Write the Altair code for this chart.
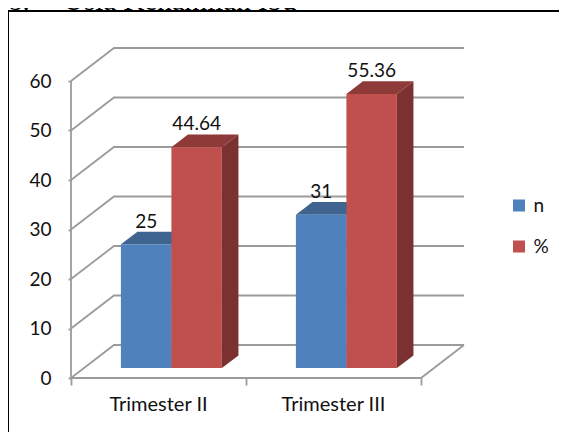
import altair as alt
import pandas as pd

categories = ["Trimester II", "Trimester III"]
series_names = ["n", "%"]
n_values = [25, 31]
pct_values = [44.64, 55.36]
y_ticks = [0, 10, 20, 30, 40, 50, 60]
heading = "Usia Kehamilan Ibu"
heading_number = "8."

front_colors = ["#4F81BD", "#C0504D"]
top_colors = ["#3E648F", "#8E3A38"]
side_colors = ["#3A5D87", "#7A312F"]

# oblique projection of the chart's depth axis, in category / value units
DX = 43 / 175
DY = 33 / 4.95
BAR_W = 50.5 / 175
FRONT = 0.30
BACK = 0.685

W, H = 551, 424
AXIS_X = 63
AXIS_Y = 370
x_scale = alt.Scale(domain=[-AXIS_X / 175, (W - AXIS_X) / 175], nice=False, zero=False)
y_scale = alt.Scale(domain=[-(H - AXIS_Y) / 4.95, AXIS_Y / 4.95], nice=False, zero=False)
LATO = "Lato"
FS = 19
GREY = "#9B9B9B"
INK = "#111111"

x_axis = alt.Axis(
    values=[0, 1, 2], offset=-(H - AXIS_Y), domain=False, grid=False, title=None,
    tickSize=7, tickWidth=1.8, tickColor=GREY, labels=False, orient="bottom",
)
y_axis = alt.Axis(
    values=y_ticks, offset=-AXIS_X, domain=False, grid=False, title=None,
    tickSize=3, tickWidth=1.8, tickColor=GREY, labelPadding=17,
    labelFont=LATO, labelFontSize=FS, labelColor=INK,
)


def X(field):
    return alt.X(field, scale=x_scale, axis=x_axis)


def Y(field):
    return alt.Y(field, scale=y_scale, axis=y_axis)


grid_rows = []
for v in y_ticks:
    grid_rows += [(f"g{v}", 0, v, 0), (f"g{v}", DX, v + DY, 1), (f"g{v}", 2 + DX, v + DY, 2)]
grid_rows += [("axis", 0, y_ticks[0], 0), ("axis", 0, y_ticks[-1], 1)]
grid_rows += [("floor", 0, 0, 0), ("floor", 2, 0, 1), ("floor", 2 + DX, DY, 2)]

layers = [
    alt.Chart(pd.DataFrame(grid_rows, columns=["g", "x", "y", "o"])).mark_line(
        color=GREY, strokeWidth=1.8, strokeJoin="miter"
    ).encode(x=X("x:Q"), y=Y("y:Q"), detail="g:N", order="o:Q")
]

label_rows = []
for s, (name, values) in enumerate(zip(series_names, [n_values, pct_values])):
    top_rows, side_rows, front_rows = [], [], []
    for c, v in enumerate(values):
        left = c + 0.5 + (s - 1) * BAR_W
        right = left + BAR_W
        yf, yb = FRONT * DY, BACK * DY
        xd_f, xd_b = FRONT * DX, BACK * DX
        top_rows += [
            (c, left + xd_f, v + yf, v + yf),
            (c, left + xd_b, v + yf, v + yb),
            (c, right + xd_f, v + yf, v + yb),
            (c, right + xd_b, v + yb, v + yb),
        ]
        side_rows += [
            (c, right + xd_f, yf, v + yf),
            (c, right + xd_b, yb, v + yb),
        ]
        front_rows.append({"s": name, "x": left + xd_f, "x2": right + xd_f, "y": yf, "y2": v + yf})
        label_rows.append({"x": (left + right) / 2 + xd_f, "y": v + yb, "t": f"{v}"})

    for rows, color in ((top_rows, top_colors[s]), (side_rows, side_colors[s])):
        layers.append(
            alt.Chart(pd.DataFrame(rows, columns=["c", "x", "lo", "hi"])).mark_area(
                color=color, interpolate="linear"
            ).encode(x=X("x:Q"), y=Y("lo:Q"), y2="hi:Q", detail="c:N")
        )
    layers.append(
        alt.Chart(pd.DataFrame(front_rows)).mark_rect().encode(
            x=X("x:Q"),
            x2="x2:Q",
            y=Y("y:Q"),
            y2="y2:Q",
            color=alt.Color("s:N", scale=alt.Scale(domain=series_names, range=front_colors), legend=alt.Legend(
                orient="none", legendX=501.5, legendY=188, title=None, symbolType="square",
                symbolSize=144, symbolStrokeWidth=0, symbolOpacity=1,
                labelFont=LATO, labelFontSize=FS, labelColor=INK,
                rowPadding=21, labelOffset=5)),
        )
    )

layers.append(
    alt.Chart(pd.DataFrame(label_rows)).mark_text(
        font=LATO, fontSize=FS, color=INK, baseline="alphabetic", dy=-4
    ).encode(x=X("x:Q"), y=Y("y:Q"), text="t:N")
)
layers.append(
    alt.Chart(pd.DataFrame({"x": [i + 0.5 for i in range(2)], "y": [0, 0], "t": categories})).mark_text(
        font=LATO, fontSize=20, color=INK, baseline="alphabetic", dy=33
    ).encode(x=X("x:Q"), y=Y("y:Q"), text="t:N")
)

# outer frame of the picture and the heading cut off above it
one = pd.DataFrame({"a": [0]})
layers.append(alt.Chart(one).mark_rule(color="#000000", strokeWidth=2).encode(
    x=alt.value(0), x2=alt.value(W), y=alt.value(3)))
layers.append(alt.Chart(one).mark_rule(color="#000000", strokeWidth=2).encode(
    x=alt.value(0), y=alt.value(2), y2=alt.value(H)))
layers.append(alt.Chart(one).mark_text(
    font="Liberation Serif", fontSize=29, color="#000000", align="left", baseline="alphabetic", text=heading
).encode(x=alt.value(55), y=alt.value(2)))
layers.append(alt.Chart(one).mark_text(
    font="Liberation Serif", fontSize=29, color="#000000", align="left", baseline="alphabetic", text=heading_number
).encode(x=alt.value(0), y=alt.value(2)))

chart = alt.layer(*layers).properties(
    width=W, height=H, padding=0, autosize=alt.AutoSizeParams(type="none", contains="padding"),
    background="#ffffff",
).configure_view(stroke=None)

chart.save("out.html", embed_options={"renderer": "svg", "actions": False})
